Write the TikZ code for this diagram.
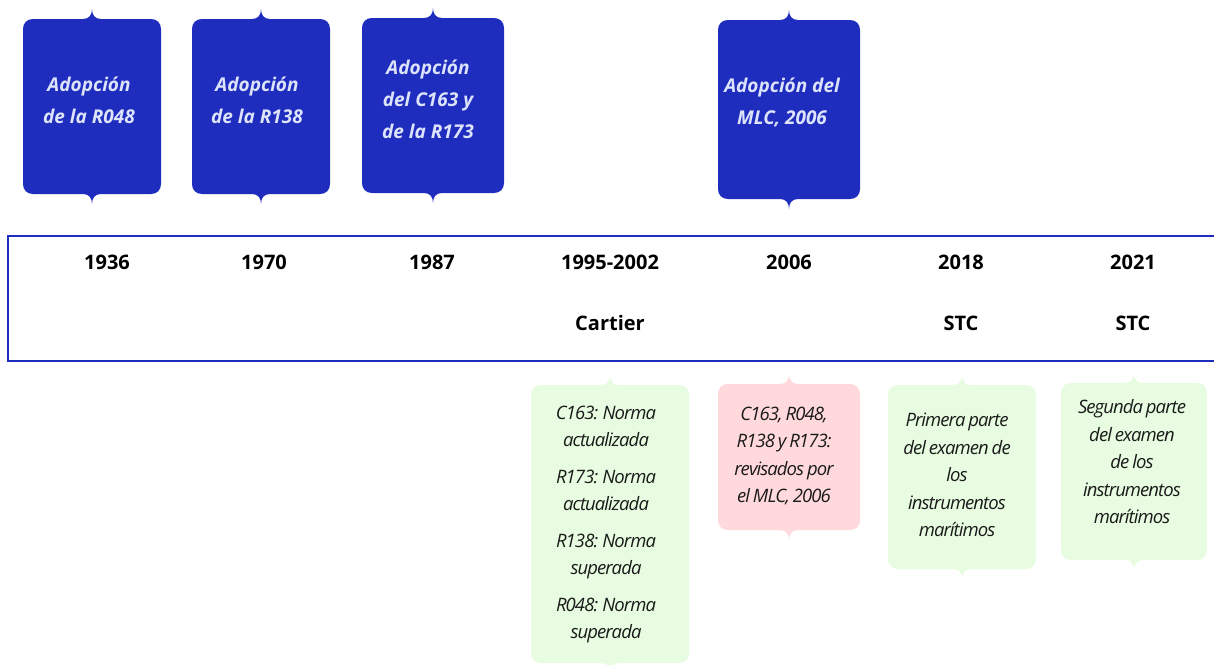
\documentclass[tikz,border=0pt]{standalone}
\usepackage{fontspec}
\setmainfont{Open Sans}
\newfontfamily\condit[LetterSpace=-5,WordSpace=0.75]{Open Sans}
\definecolor{tlblue}{HTML}{1F2DBE}
\definecolor{tltext}{HTML}{DCE3FA}
\definecolor{tlgreen}{HTML}{E7FCE0}
\definecolor{tlpink}{HTML}{FFD9DC}
\definecolor{tldark}{HTML}{1A1A1A}
\newcommand{\bubble}[5]{%
 \fill[#5] ({#1-#4},{#2+10}) .. controls ({#1-#4},{#2+4}) and ({#1-#4+4},#2) .. ({#1-#4+10},#2)
  -- ({#1-9},#2) .. controls ({#1-3},#2) and (#1,{#2-4}) .. (#1,{#2-10})
  .. controls (#1,{#2-4}) and ({#1+3},#2) .. ({#1+9},#2)
  -- ({#1+#4-10},#2) .. controls ({#1+#4-4},#2) and ({#1+#4},{#2+4}) .. ({#1+#4},{#2+10})
  -- ({#1+#4},{#3-10}) .. controls ({#1+#4},{#3-4}) and ({#1+#4-4},#3) .. ({#1+#4-10},#3)
  -- ({#1+9},#3) .. controls ({#1+3},#3) and (#1,{#3+4}) .. (#1,{#3+10})
  .. controls (#1,{#3+4}) and ({#1-3},#3) .. ({#1-9},#3)
  -- ({#1-#4+10},#3) .. controls ({#1-#4+4},#3) and ({#1-#4},{#3-4}) .. ({#1-#4},{#3-10}) -- cycle;}
\tikzset{
 bluetxt/.style={text=tltext, align=center, font=\fontsize{19}{32}\selectfont\bfseries\itshape, inner sep=0pt},
 greentxt/.style={text=tldark, align=center, font=\condit\fontsize{18.5}{27.5}\selectfont\itshape, inner sep=0pt},
 year/.style={text=black, font=\fontsize{20}{22}\selectfont\bfseries, inner sep=0pt},
 frame/.style={draw=tlblue, line width=2.4pt}
}
\begin{document}
\begin{tikzpicture}[x=1pt,y=-1pt]
\useasboundingbox (0,0) rectangle (1214,664);
% top blue bubbles
\bubble{92}{19}{194}{69}{tlblue}
\bubble{261}{19}{194}{69}{tlblue}
\bubble{433}{18}{193}{71}{tlblue}
\bubble{789}{20}{199}{71}{tlblue}
\node[bluetxt] (b1) at (89,100) {Adopción\\de la R048};
\node[bluetxt] (b2) at (257,100) {Adopción\\de la R138};
\node[bluetxt] (b3) at (428,99) {Adopción\\del C163 y\\de la R173};
\node[bluetxt] (b4) at (782,102) {Adopción del\\MLC, 2006};
% frame
\draw[frame] (1220,236) -- (8,236) -- (8,361) -- (1220,361);
% years
\node[year] (y1) at (107,262) {1936};
\node[year] (y2) at (264,262) {1970};
\node[year] (y3) at (432,262) {1987};
\node[year] (y4) at (610,262) {1995-2002};
\node[year] (y5) at (789,262) {2006};
\node[year] (y6) at (961,262) {2018};
\node[year] (y7) at (1133,262) {2021};
\node[year] (s1) at (610,323) {Cartier};
\node[year] (s2) at (961,323) {STC};
\node[year] (s3) at (1133,323) {STC};
% bottom bubbles
\bubble{610}{385}{663}{79}{tlgreen}
\bubble{789}{384}{530}{71}{tlpink}
\bubble{962}{385}{569}{74}{tlgreen}
\bubble{1134}{383}{560}{73}{tlgreen}
\node[greentxt] (g1) at (606,524.5) {C163: Norma\\actualizada\\[9pt]R173: Norma\\actualizada\\[9pt]R138: Norma\\superada\\[9pt]R048: Norma\\superada};
\node[greentxt] (p1) at (784,456) {C163, R048,\\R138 y R173:\\revisados por\\el MLC, 2006};
\node[greentxt] (g2) at (957,475) {Primera parte\\del examen de\\los\\instrumentos\\marítimos};
\node[greentxt] (g3) at (1132,462) {Segunda parte\\del examen\\de los\\instrumentos\\marítimos};
\end{tikzpicture}
\end{document}
